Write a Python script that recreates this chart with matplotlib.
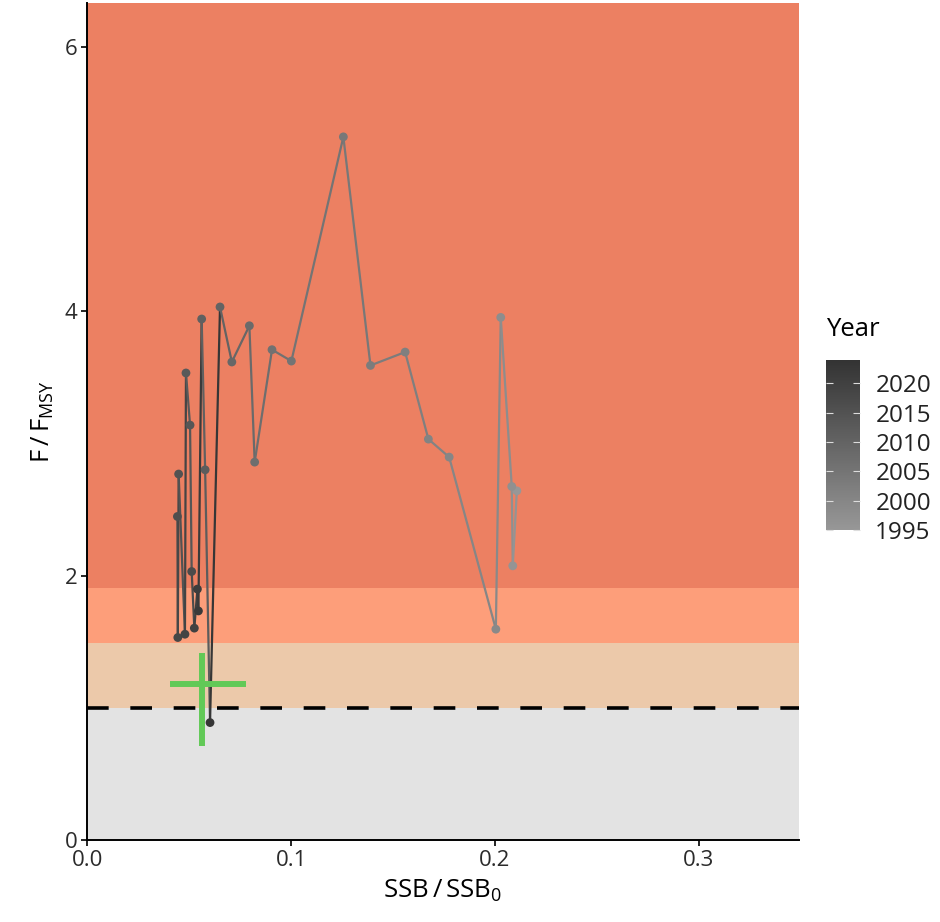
import numpy as np
import matplotlib
matplotlib.use("Agg")
import matplotlib.pyplot as plt
from matplotlib.colors import LinearSegmentedColormap, Normalize

plt.rcParams['font.family'] = ['Open Sans', 'DejaVu Sans']
plt.rcParams['mathtext.default'] = 'regular'

# ---- data ----
years = list(range(1995, 2024))
ssb = [0.2107, 0.2087, 0.2082, 0.2028, 0.2004, 0.1775, 0.1673, 0.1559, 0.1389, 0.1256,
       0.1001, 0.0906, 0.0821, 0.0795, 0.0709, 0.0651, 0.0561, 0.0578, 0.0484, 0.0504,
       0.0448, 0.0442, 0.0512, 0.0444, 0.0479, 0.0525, 0.0540, 0.0545, 0.0602]
f_ratio = [2.642, 2.075, 2.675, 3.953, 1.596, 2.897, 3.033, 3.691, 3.590, 5.318,
           3.623, 3.709, 2.859, 3.890, 3.616, 4.032, 3.941, 2.801, 3.533, 3.139,
           2.769, 2.448, 2.032, 1.533, 1.558, 1.604, 1.899, 1.734, 0.890]

band_lo = [0.0, 1.0, 1.49, 1.91]
band_hi = [1.0, 1.49, 1.91, 6.33]
band_colors = ['#E3E3E3', '#ECC9AA', '#FD9E7A', '#EC8062']

ref_x, ref_y = 0.0561, 1.182
ref_x_lo, ref_x_hi = 0.0406, 0.0779
ref_y_lo, ref_y_hi = 0.713, 1.419

x_ticks = [0.0, 0.1, 0.2, 0.3]
x_tick_labels = ['0.0', '0.1', '0.2', '0.3']
y_ticks = [0, 2, 4, 6]
cbar_ticks = [1995, 2000, 2005, 2010, 2015, 2020]
year_min, year_max = 1995, 2024

# ---- figure ----
fig = plt.figure(figsize=(9.4, 9.22), dpi=100)
ax = fig.add_axes([87.3/940, (922-840.3)/922, (798.8-87.3)/940, (840.3-3)/922])

for lo, hi, c in zip(band_lo, band_hi, band_colors):
    ax.axhspan(lo, hi, color=c, lw=0, zorder=0)

ax.axhline(1.0, color='black', lw=2.6, ls=(0, (6, 6)), zorder=2)

cmap = LinearSegmentedColormap.from_list('yr', ['#979797', '#333333'])
norm = Normalize(year_min, year_max)

order = np.argsort(ssb, kind='stable')
xs = np.array(ssb)[order]
ys = np.array(f_ratio)[order]
yrs = np.array(years)[order]
for i in range(len(xs) - 1):
    ax.plot(xs[i:i+2], ys[i:i+2], color=cmap(norm(yrs[i])), lw=1.6,
            solid_capstyle='butt', zorder=3)
ax.scatter(ssb, f_ratio, c=[cmap(norm(y)) for y in years], s=40, lw=0, zorder=4)

green = '#62C957'
ax.plot([ref_x_lo, ref_x_hi], [ref_y, ref_y], color=green, lw=4.3, zorder=5,
        solid_capstyle='butt')
ax.plot([ref_x, ref_x], [ref_y_lo, ref_y_hi], color=green, lw=4.3, zorder=5,
        solid_capstyle='butt')

ax.set_xlim(0, 0.349)
ax.set_ylim(0, 6.33)
ax.set_xticks(x_ticks)
ax.set_xticklabels(x_tick_labels)
ax.set_yticks(y_ticks)
for s in ['top', 'right']:
    ax.spines[s].set_visible(False)
for s in ['left', 'bottom']:
    ax.spines[s].set_linewidth(1.4)
    ax.spines[s].set_color('black')
ax.tick_params(axis='both', length=4, width=1.2, color='black',
               labelsize=16, labelcolor='#2b2b2b', pad=3)
ax.set_xlabel(r'$SSB\,/\,SSB_0$', fontsize=18.5, labelpad=5)
ax.set_ylabel(r'$F\,/\,F_{MSY}$', fontsize=18.5, labelpad=6)

# ---- colorbar ----
cax = fig.add_axes([826/940, (922-530)/922, 34/940, 170/922])
sm = matplotlib.cm.ScalarMappable(norm=norm, cmap=cmap)
cb = fig.colorbar(sm, cax=cax)
cb.outline.set_visible(False)
cb.set_ticks(cbar_ticks)
cb.set_ticklabels([str(t) for t in cbar_ticks])
cax.tick_params(axis='y', direction='in', length=5, width=0.8, color='#DDDDDD',
                labelsize=17.5, labelcolor='#222222', pad=11, left=True, right=True)
fig.text(826/940, (922-330)/922, 'Year', fontsize=18.5, va='center', ha='left')

fig.savefig('out.png', dpi=100)
